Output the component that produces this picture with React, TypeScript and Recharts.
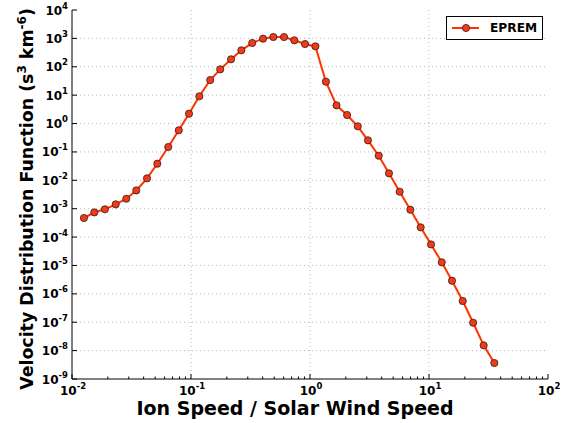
import React from 'react';
import { LineChart, Line, XAxis, YAxis, CartesianGrid, Legend, Label } from 'recharts';

// Ion speed / solar wind speed
const speeds = [
  0.0126, 0.0154, 0.0189, 0.0233, 0.0286, 0.0347, 0.0427, 0.0521, 0.0644, 0.0789,
  0.0962, 0.1175, 0.145, 0.176, 0.217, 0.265, 0.327, 0.403, 0.492, 0.605,
  0.738, 0.908, 1.11, 1.36, 1.67, 2.05, 2.52, 3.07, 3.78, 4.61,
  5.67, 6.97, 8.51, 10.4, 12.8, 15.6, 19.2, 23.5, 28.8, 35.4,
];
// Velocity distribution function (s^3 km^-6)
const vdf = [
  4.7e-4, 7.4e-4, 9.5e-4, 1.42e-3, 2.24e-3, 4.4e-3, 0.0117, 0.0384, 0.149, 0.577,
  2.22, 9.1, 34, 81, 183, 380, 688, 977, 1119, 1119,
  855, 634, 525, 29.8, 4.38, 2.0, 0.8, 0.256, 0.0735, 0.0176,
  3.96e-3, 9.2e-4, 2.2e-4, 5.5e-5, 1.29e-5, 2.9e-6, 5.6e-7, 9.6e-8, 1.53e-8, 3.65e-9,
];

const seriesName = 'EPREM';
const xLabel = 'Ion Speed / Solar Wind Speed';

const xAllTicks = [
  0.01, 0.02, 0.03, 0.04, 0.05, 0.06, 0.07, 0.08, 0.09,
  0.1, 0.2, 0.3, 0.4, 0.5, 0.6, 0.7, 0.8, 0.9,
  1, 2, 3, 4, 5, 6, 7, 8, 9,
  10, 20, 30, 40, 50, 60, 70, 80, 90,
  100,
];
const yMajorTicks = [1e-9, 1e-8, 1e-7, 1e-6, 1e-5, 1e-4, 1e-3, 1e-2, 1e-1, 1, 10, 100, 1e3, 1e4];

const data = speeds.map((s, i) => ({ speed: s, vdf: vdf[i] }));

const FONT = '"DejaVu Sans", sans-serif';
const LINE_COLOR = '#ff3300';
const MARKER_FILL = '#f03a1c';
const MARKER_EDGE = '#3b1a12';

const isMajor = (v: number) => Math.abs(Math.log10(v) - Math.round(Math.log10(v))) < 1e-6;
const expOf = (v: number) => String(Math.round(Math.log10(v)));

const Pow = ({ x, y, v, anchor }: any) => (
  <text x={x} y={y} textAnchor={anchor} fontFamily={FONT} fontWeight="bold" fontSize={12} fill="#000">
    <tspan>10</tspan>
    <tspan dy={-6} fontSize={8.5}>{expOf(v)}</tspan>
  </text>
);

const BottomTick = (props: any) => {
  const { x, y, payload } = props;
  const v = payload.value;
  const major = isMajor(v);
  return (
    <g>
      <line x1={x} x2={x} y1={y} y2={y - (major ? 5 : 2.5)} stroke="#000" strokeWidth={1} />
      {major && <Pow x={x + 1} y={y + 16} v={v} anchor="middle" />}
    </g>
  );
};

const TopTick = (props: any) => {
  const { x, y, payload } = props;
  const major = isMajor(payload.value);
  return <line x1={x} x2={x} y1={y} y2={y + (major ? 5 : 2.5)} stroke="#000" strokeWidth={1} />;
};

const LeftTick = (props: any) => {
  const { x, y, payload } = props;
  return (
    <g>
      <line x1={x} x2={x + 5} y1={y} y2={y} stroke="#000" strokeWidth={1} />
      <Pow x={x - 4} y={y + 4.5} v={payload.value} anchor="end" />
    </g>
  );
};

const RightTick = (props: any) => {
  const { x, y } = props;
  return <line x1={x} x2={x - 5} y1={y} y2={y} stroke="#000" strokeWidth={1} />;
};

const LegendBox = () => (
  <div
    style={{
      width: 97,
      height: 24,
      boxSizing: 'border-box',
      border: '1px solid #000',
      background: '#fff',
      display: 'flex',
      alignItems: 'center',
    }}
  >
    <svg width={40} height={22} style={{ display: 'block' }}>
      <line x1={5} x2={32} y1={11} y2={11} stroke={LINE_COLOR} strokeWidth={2} />
      <circle cx={19} cy={11} r={3.6} fill={MARKER_FILL} stroke={MARKER_EDGE} strokeWidth={0.8} />
    </svg>
    <span style={{ fontFamily: FONT, fontWeight: 'bold', fontSize: 12.2, color: '#000', marginLeft: 3 }}>
      {seriesName}
    </span>
  </div>
);

export default function App() {
  return (
    <div style={{ position: 'absolute', left: 0, top: 0, width: 578, height: 423, background: '#fff' }}>
      <LineChart
        width={578}
        height={423}
        data={data}
        margin={{ top: 10, right: 30, bottom: 14, left: 0 }}
      >
        <CartesianGrid
          stroke="#b8b8b8"
          strokeDasharray="1 3"
          horizontalValues={[1e-8, 1e-7, 1e-6, 1e-5, 1e-4, 1e-3, 1e-2, 1e-1, 1, 10, 100, 1e3]}
          verticalValues={[0.1, 1, 10]}
        />
        <XAxis
          dataKey="speed"
          type="number"
          scale="log"
          domain={[0.01, 100]}
          allowDataOverflow
          ticks={xAllTicks}
          interval={0}
          height={30}
          tickSize={0}
          tickMargin={0}
          tickLine={false}
          tick={<BottomTick />}
          axisLine={{ stroke: '#000', strokeWidth: 1 }}
        >
          <Label
            content={() => (
              <text x={295} y={415} textAnchor="middle" fontFamily={FONT} fontWeight="bold" fontSize={19} fill="#000">
                {xLabel}
              </text>
            )}
          />
        </XAxis>
        <XAxis
          xAxisId="top"
          orientation="top"
          dataKey="speed"
          type="number"
          scale="log"
          domain={[0.01, 100]}
          allowDataOverflow
          ticks={xAllTicks}
          interval={0}
          height={0}
          tickSize={0}
          tickMargin={0}
          tickLine={false}
          tick={<TopTick />}
          axisLine={{ stroke: '#000', strokeWidth: 1 }}
        />
        <YAxis
          type="number"
          scale="log"
          domain={[1e-9, 1e4]}
          allowDataOverflow
          ticks={yMajorTicks}
          interval={0}
          width={72}
          tickSize={0}
          tickMargin={0}
          tickLine={false}
          tick={<LeftTick />}
          axisLine={{ stroke: '#000', strokeWidth: 1 }}
        >
          <Label
            content={() => (
              <text
                x={33}
                y={199}
                transform="rotate(-90 33 199)"
                textAnchor="middle"
                fontFamily={FONT}
                fontWeight="bold"
                fontSize={17.4}
                fill="#000"
              >
                Velocity Distribution Function (s
                <tspan dy={-7} fontSize={12}>3</tspan>
                <tspan dy={7}> km</tspan>
                <tspan dy={-7} fontSize={12}>-6</tspan>
                <tspan dy={7}>)</tspan>
              </text>
            )}
          />
        </YAxis>
        <YAxis
          yAxisId="right"
          orientation="right"
          type="number"
          scale="log"
          domain={[1e-9, 1e4]}
          allowDataOverflow
          ticks={yMajorTicks}
          interval={0}
          width={0}
          tickSize={0}
          tickMargin={0}
          tickLine={false}
          tick={<RightTick />}
          axisLine={{ stroke: '#000', strokeWidth: 1 }}
        />
        <Legend
          layout="vertical"
          align="center"
          verticalAlign="middle"
          wrapperStyle={{ position: 'absolute', left: 446, top: 16, width: 97, height: 24 }}
          content={() => <LegendBox />}
        />
        <Line
          type="linear"
          dataKey="vdf"
          name={seriesName}
          stroke={LINE_COLOR}
          strokeWidth={2}
          dot={{ r: 3.6, fill: MARKER_FILL, stroke: MARKER_EDGE, strokeWidth: 0.8 }}
          activeDot={false}
          isAnimationActive={false}
        />
      </LineChart>
    </div>
  );
}
